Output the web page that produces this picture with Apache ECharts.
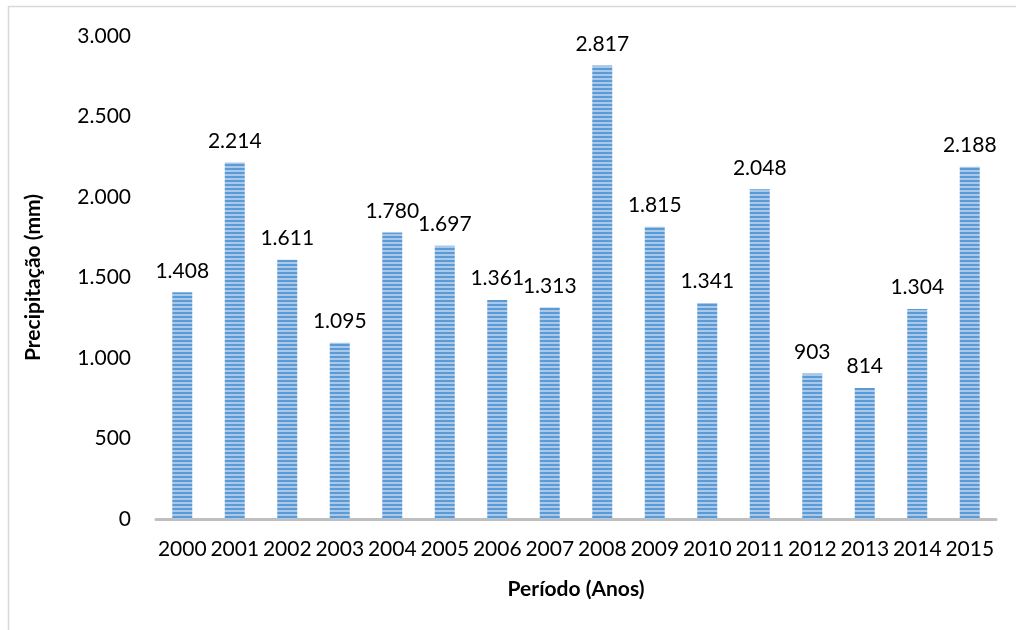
<!DOCTYPE html>
<html>
<head>
<meta charset="utf-8">
<script src="https://cdn.jsdelivr.net/npm/echarts@6/dist/echarts.min.js"></script>
<style>
  html, body { margin: 0; padding: 0; background: #fff; }
  #chart { width: 1016px; height: 630px; }
</style>
</head>
<body>
<div id="chart"></div>
<script>
const years = ["2000", "2001", "2002", "2003", "2004", "2005", "2006", "2007",
  "2008", "2009", "2010", "2011", "2012", "2013", "2014", "2015"];
const precip = [1408, 2214, 1611, 1095, 1780, 1697, 1361, 1313,
  2817, 1815, 1341, 2048, 903, 814, 1304, 2188];
const yTicks = [0, 500, 1000, 1500, 2000, 2500, 3000];

// pt-BR style thousand separator
function fmt(v) {
  return String(v).replace(/\B(?=(\d{3})+(?!\d))/g, ".");
}

// striped fill like the original bars
const tile = document.createElement("canvas");
tile.width = 4;
tile.height = 4;
const ctx = tile.getContext("2d");
ctx.fillStyle = "#a9c8ea";
ctx.fillRect(0, 0, 4, 4);
ctx.fillStyle = "#5b9bd5";
ctx.fillRect(0, 0, 4, 2);

const chart = echarts.init(document.getElementById("chart"));
const font = "Lato, 'Open Sans', sans-serif";

chart.setOption({
  backgroundColor: "#fff",
  animation: false,
  textStyle: { fontFamily: font },
  graphic: [{
    type: "rect",
    shape: { x: 8.5, y: 6.5, width: 1100, height: 700 },
    style: { fill: "none", stroke: "#d9d9d9", lineWidth: 1.5 }
  }],
  grid: { left: 156, right: 20, top: 36, bottom: 111 },
  xAxis: {
    type: "category",
    data: years,
    name: "Período (Anos)",
    nameLocation: "middle",
    nameGap: 60,
    nameTextStyle: { fontFamily: font, fontSize: 21, fontWeight: "bold", color: "#000" },
    axisLine: { lineStyle: { color: "#bfbfbf", width: 3 } },
    axisTick: { show: false },
    axisLabel: { color: "#000", fontSize: 21, margin: 20, interval: 0 }
  },
  yAxis: {
    type: "value",
    min: 0,
    max: yTicks[yTicks.length - 1],
    interval: 500,
    name: "Precipitação (mm)",
    nameLocation: "middle",
    nameGap: 112,
    nameTextStyle: { fontFamily: font, fontSize: 21, fontWeight: "bold", color: "#000" },
    splitLine: { show: false },
    axisLine: { show: false },
    axisTick: { show: false },
    axisLabel: { color: "#000", fontSize: 21, margin: 25, formatter: fmt }
  },
  series: [{
    type: "bar",
    data: precip,
    barWidth: 20,
    itemStyle: {
      color: { image: tile, repeat: "repeat" }
    },
    label: {
      show: true,
      position: "top",
      distance: 11,
      color: "#000",
      fontSize: 21,
      formatter: p => fmt(p.value)
    }
  }]
});
</script>
</body>
</html>
